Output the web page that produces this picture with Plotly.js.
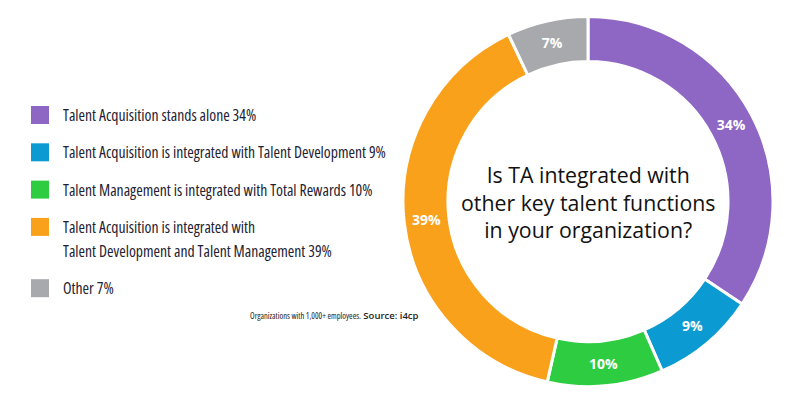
<!DOCTYPE html>
<html>
<head>
<meta charset="utf-8">
<script src="https://cdn.plot.ly/plotly-3.0.1.min.js"></script>
<style>html,body{margin:0;padding:0;background:#fff;}#chart{width:792px;height:400px;}</style>
</head>
<body>
<div id="chart"></div>
<script>
const categories = [
  "Talent Acquisition stands alone",
  "Talent Acquisition is integrated with Talent Development",
  "Talent Management is integrated with Total Rewards",
  "Talent Acquisition is integrated with<br>Talent Development and Talent Management",
  "Other"
];
const values = [34, 9, 10, 39, 7];
const colors = ["#8e66c4", "#0b9bd2", "#2ecc40", "#f9a11b", "#a8a9ad"];
const centerTitle = "Is TA integrated with<br>other key talent functions<br>in your organization?";
const footNote = "Organizations with 1,000+ employees.";
const sourceNote = "Source: i4cp";

const W = 792, H = 400;
const px = x => x / W;
const py = y => 1 - y / H;
const cond = t => "<span style='font-stretch:condensed'>" + t + "</span>";

const trace = {
  type: "pie",
  values: values,
  labels: categories,
  marker: {colors: colors, line: {color: "#ffffff", width: 3}},
  hole: 0.757,
  sort: false,
  direction: "clockwise",
  rotation: 0,
  texttemplate: "<b>%{value}%</b>",
  textposition: "inside",
  insidetextorientation: "horizontal",
  textfont: {color: "#ffffff", size: 14, family: "Open Sans"},
  domain: {x: [px(403), px(773)], y: [py(387), py(16)]},
  showlegend: false,
  hoverinfo: "none"
};

const shapes = [];
const annotations = [];
const legendFont = {family: "Open Sans", size: 15.7, color: "#222233"};
let yc = 115;
categories.forEach((cat, i) => {
  shapes.push({type: "rect", xref: "paper", yref: "paper",
    x0: px(31), x1: px(49), y0: py(yc - 9), y1: py(yc + 9),
    fillcolor: colors[i], line: {width: 0}});
  const lines = cat.split("<br>");
  lines.forEach((ln, j) => {
    const txt = (j === lines.length - 1) ? ln + " " + values[i] + "%" : ln;
    annotations.push({xref: "paper", yref: "paper", x: px(61), y: py(yc + 24 * j),
      xanchor: "left", yanchor: "middle", showarrow: false, text: cond(txt), font: legendFont});
  });
  yc += 37.3 + 24 * (lines.length - 1);
});

annotations.push({xref: "paper", yref: "paper", x: px(588), y: py(201.5),
  xanchor: "center", yanchor: "middle", showarrow: false, text: centerTitle,
  font: {family: "Open Sans", size: 21.3, color: "#111111"}});

annotations.push({xref: "paper", yref: "paper", x: px(421), y: py(315),
  xanchor: "right", yanchor: "middle", showarrow: false,
  text: "<span style='font-size:8.5px;font-stretch:condensed'>" + footNote + "</span> <span style='font-weight:600'>" + sourceNote + "</span>",
  font: {family: "Open Sans", size: 9.5, color: "#222222"}});

const layout = {
  width: W, height: H,
  margin: {l: 0, r: 0, t: 0, b: 0},
  paper_bgcolor: "#ffffff",
  plot_bgcolor: "#ffffff",
  showlegend: false,
  shapes: shapes,
  annotations: annotations
};

Plotly.newPlot("chart", [trace], layout, {displayModeBar: false, staticPlot: true});
</script>
</body>
</html>
